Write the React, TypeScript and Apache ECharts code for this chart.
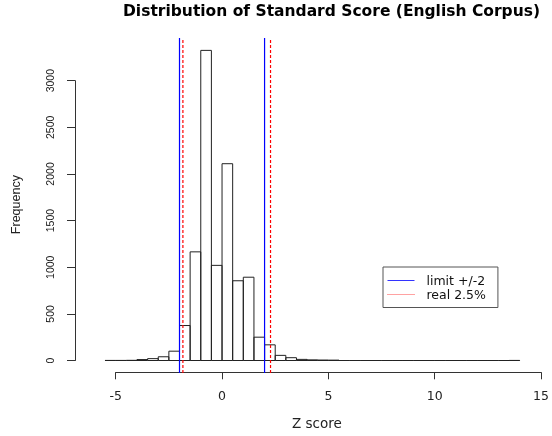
import React, { useEffect, useRef } from "react";
import * as echarts from "echarts";

const binLeft = [
  -5.5, -5, -4.5, -4, -3.5, -3, -2.5, -2, -1.5, -1, -0.5, 0, 0.5, 1, 1.5, 2, 2.5, 3, 3.5, 4,
  4.5, 5, 5.5, 6, 6.5, 7, 7.5, 8, 8.5, 9, 9.5, 10, 10.5, 11, 11.5, 12, 12.5, 13, 13.5,
];
const binCounts = [
  1, 1, 2, 10, 20, 40, 100, 375, 1165, 3325, 1020, 2110, 855, 893, 250, 168, 55, 30, 12, 7,
  5, 4, 0, 0, 0, 0, 0, 0, 0, 0, 0, 0, 0, 0, 0, 0, 0, 0, 1,
];
const binWidth = 0.5;
const limitLines = [-2, 2];
const realLines = [-1.84, 2.28];
const xTicks = [-5, 0, 5, 10, 15];
const yTicks = [0, 500, 1000, 1500, 2000, 2500, 3000];

const TITLE = "Distribution of Standard Score (English Corpus)";
const X_NAME = "Z score";
const Y_NAME = "Frequency";
const LIMIT_NAME = "limit +/-2";
const REAL_NAME = "real 2.5%";

export default function App() {
  const ref = useRef<HTMLDivElement>(null);
  useEffect(() => {
    if (!ref.current) return;
    const chart = echarts.init(ref.current, null, { renderer: "svg" });
    const maxCount = Math.max(...binCounts);
    const yLo = -0.04 * maxCount;
    const yHi = 1.04 * maxCount;
    const vline = (name: string, v: number, color: string, type: any) => ({
      name,
      type: "line",
      data: [
        [v, yLo],
        [v, yHi],
      ],
      symbol: "none",
      clip: false,
      silent: true,
      itemStyle: { color },
      lineStyle: { color, width: 1.2, type },
      z: 3,
    });
    chart.setOption({
      animation: false,
      title: {
        text: TITLE,
        left: 123,
        top: 2.5,
        padding: 0,
        textStyle: {
          fontFamily: "DejaVu Sans",
          fontWeight: "bold",
          fontSize: 15.5,
          color: "#000",
        },
      },
      legend: {
        left: 383,
        top: 267,
        orient: "vertical",
        padding: [7, 12, 6.5, 4],
        borderColor: "#555",
        borderWidth: 1,
        borderRadius: 0,
        itemWidth: 27,
        itemHeight: 10,
        itemGap: 1,
        itemStyle: { opacity: 0 },
        lineStyle: { width: 1 },
        textStyle: {
          fontFamily: "DejaVu Sans",
          fontSize: 12.5,
          color: "#111",
          lineHeight: 12,
          padding: [0, 0, 0, 7],
        },
        data: [
          { name: LIMIT_NAME, lineStyle: { color: "#3333ff", width: 1 } },
          {
            name: REAL_NAME,
            lineStyle: { color: "#ff4444", type: "dotted", width: 1 },
          },
        ],
      },
      grid: { left: 115.7, right: 8.7, top: 80.7, bottom: 75.5 },
      xAxis: {
        type: "value",
        min: xTicks[0],
        max: xTicks[xTicks.length - 1],
        interval: 5,
        offset: 11.8,
        name: X_NAME,
        nameLocation: "middle",
        nameGap: 44,
        nameTextStyle: {
          fontFamily: "DejaVu Sans",
          fontSize: 13.5,
          color: "#222",
          padding: [0, 23, 0, 0],
        },
        axisLine: { show: true, onZero: false, lineStyle: { color: "#333", width: 1 } },
        axisTick: { show: true, length: 7, lineStyle: { color: "#333" } },
        axisLabel: {
          margin: 17,
          fontFamily: "DejaVu Sans",
          fontSize: 12.5,
          color: "#222",
        },
        splitLine: { show: false },
      },
      yAxis: {
        type: "value",
        min: yTicks[0],
        max: yTicks[yTicks.length - 1],
        interval: 500,
        offset: 40.7,
        name: Y_NAME,
        nameLocation: "middle",
        nameGap: 53,
        nameTextStyle: {
          fontFamily: "Liberation Sans",
          fontSize: 12.5,
          color: "#222",
          padding: [0, 0, 0, 32],
        },
        axisLine: { show: true, onZero: false, lineStyle: { color: "#333", width: 1 } },
        axisTick: { show: true, length: 8, lineStyle: { color: "#333" } },
        axisLabel: {
          rotate: 90,
          margin: 20,
          fontFamily: "Liberation Sans",
          fontSize: 10.5,
          color: "#222",
          formatter: (v: number) => String(v),
        },
        splitLine: { show: false },
      },
      series: [
        {
          name: "hist",
          type: "custom",
          clip: false,
          silent: true,
          data: binLeft.map((b, i) => [b, binCounts[i]]),
          encode: { x: 0, y: 1 },
          renderItem: (params: any, api: any) => {
            const x0 = api.value(0);
            const c = api.value(1);
            const p0 = api.coord([x0, 0]);
            const p1 = api.coord([x0 + binWidth, c]);
            return {
              type: "rect",
              shape: {
                x: p0[0],
                y: p1[1],
                width: p1[0] - p0[0],
                height: p0[1] - p1[1],
              },
              style: { fill: "none", stroke: "#222", lineWidth: 1 },
            };
          },
          z: 2,
        },
        vline(LIMIT_NAME, limitLines[0], "#0000ff", "solid"),
        vline(LIMIT_NAME, limitLines[1], "#0000ff", "solid"),
        vline(REAL_NAME, realLines[0], "#ff0000", [3, 2]),
        vline(REAL_NAME, realLines[1], "#ff0000", [3, 2]),
      ],
    });
    return () => chart.dispose();
  }, []);
  return (
    <div
      ref={ref}
      style={{ position: "fixed", left: 0, top: 0, width: 552, height: 436 }}
    />
  );
}
